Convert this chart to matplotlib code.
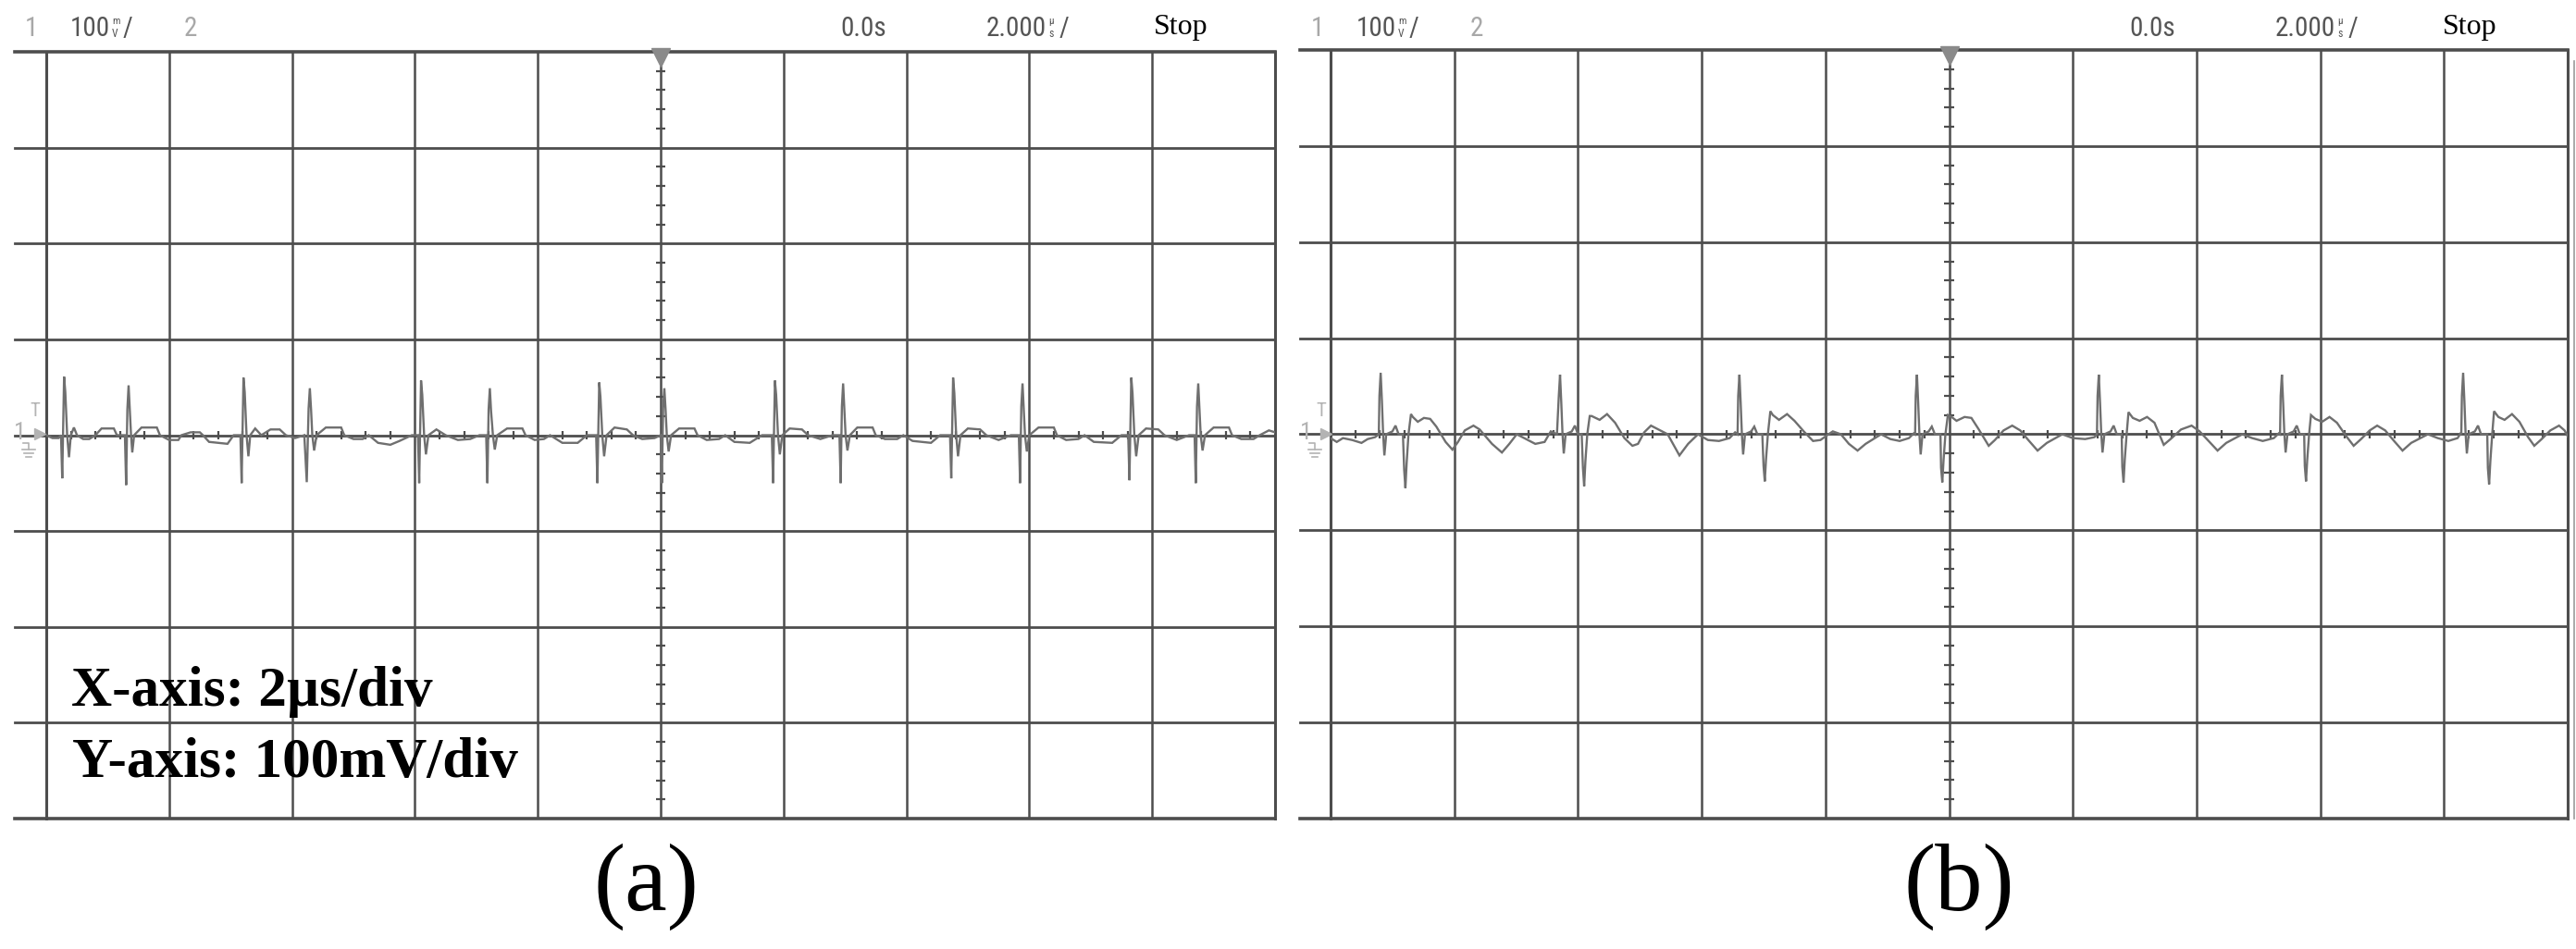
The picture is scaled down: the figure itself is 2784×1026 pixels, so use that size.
import numpy as np
import matplotlib
matplotlib.use('Agg')
import matplotlib.pyplot as plt
from matplotlib import font_manager

# ---- data (time in us, signal in mV) ----
trace_a_t = [
    -10.00, -9.90, -9.80, -9.76, -9.74, -9.71, -9.69, -9.66, -9.63, -9.60, -9.55, -9.50, -9.40, -9.30,
    -9.20, -9.10, -8.90, -8.85, -8.72, -8.70, -8.68, -8.66, -8.64, -8.62, -8.60, -8.57, -8.45, -8.20,
    -8.15, -8.00, -7.85, -7.80, -7.65, -7.50, -7.45, -7.35, -7.05, -6.95,
    -6.84, -6.82, -6.79, -6.77, -6.74, -6.71, -6.68, -6.60, -6.50, -6.35, -6.20, -6.10, -5.95, -5.80,
    -5.76, -5.73, -5.71, -5.69, -5.67, -5.64, -5.60, -5.45, -5.20, -5.15, -5.00, -4.85, -4.75, -4.60,
    -4.40, -4.25, -4.05,
    -3.95, -3.93, -3.90, -3.88, -3.85, -3.82, -3.78, -3.65, -3.50, -3.30, -3.10, -2.95, -2.84, -2.82,
    -2.80, -2.78, -2.76, -2.73, -2.70, -2.66, -2.50, -2.25, -2.20, -2.05, -1.90, -1.80, -1.60, -1.35,
    -1.20,
    -1.05, -1.03, -1.00, -0.98, -0.95, -0.92, -0.88, -0.75, -0.55, -0.45, -0.30, -0.10, 0.00, 0.02,
    0.04, 0.06, 0.08, 0.10, 0.13, 0.17, 0.30, 0.55, 0.60, 0.75, 0.95, 1.05, 1.20, 1.45, 1.65,
    1.81, 1.83, 1.86, 1.88, 1.91, 1.94, 1.98, 2.10, 2.30, 2.40, 2.60, 2.80, 2.91, 2.93, 2.95, 2.97,
    2.99, 3.01, 3.04, 3.08, 3.20, 3.45, 3.50, 3.65, 3.85, 3.95, 4.10, 4.40, 4.55,
    4.71, 4.73, 4.76, 4.78, 4.81, 4.84, 4.88, 5.00, 5.20, 5.30, 5.50, 5.70, 5.83, 5.85, 5.87, 5.89,
    5.91, 5.93, 5.96, 6.00, 6.15, 6.40, 6.45, 6.60, 6.80, 6.90, 7.05, 7.35, 7.50,
    7.61, 7.63, 7.66, 7.68, 7.71, 7.74, 7.78, 7.90, 8.10, 8.20, 8.40, 8.60, 8.69, 8.71, 8.73, 8.75,
    8.77, 8.79, 8.82, 8.86, 9.00, 9.25, 9.30, 9.45, 9.65, 9.75, 9.90, 10.00,
]
trace_a_mv = [
    0, -3, -3, 0, -45, 61, 45, 0, -23, 0, 8, 0, -4, -4,
    0, 7, 7, 0, 0, -52, 27, 52, 27, 0, -18, 0, 8, 8,
    0, -5, -5, 0, 3, 3, 0, -7, -9, 0,
    0, -50, 60, 45, 0, -22, 0, 7, 0, 6, 6, 0, -3, 0,
    -49, 28, 49, 27, 0, -16, 0, 8, 8, 0, -4, -4, 0, -8,
    -10, -6, 0,
    0, -50, 57, 42, 0, -20, 0, 6, 0, -5, -4, 0, 0, -50,
    27, 49, 25, 0, -15, 0, 7, 7, 0, -5, -4, 0, -8, -8,
    0,
    0, -50, 55, 40, 0, -22, 0, 8, 6, 0, -4, -3, 0, -50,
    28, 49, 27, 0, -17, 0, 7, 7, 0, -5, -4, 0, -7, -8, 0,
    0, -50, 57, 42, 0, -20, 0, 7, 6, 0, -4, 0, 0, -50, 30, 54,
    28, 0, -16, 0, 8, 8, 0, -4, -4, 0, -6, -8, 0,
    0, -45, 60, 44, 0, -22, 0, 7, 6, 0, -5, 0, 0, -50, 30, 54,
    28, 0, -17, 0, 8, 8, 0, -5, -4, 0, -7, -8, 0,
    0, -47, 60, 44, 0, -22, 0, 7, 6, 0, -5, 0, 0, -50, 30, 54,
    28, 0, -16, 0, 8, 8, 0, -4, -4, 0, 5, 3,
]

trace_b_t = [
    -10.00, -9.90, -9.80, -9.65, -9.50, -9.40, -9.28, -9.22,
    -9.21, -9.19, -9.17, -9.15, -9.13, -9.10, -9.00, -8.95, -8.90, -8.83,
    -8.81, -8.79, -8.77, -8.74, -8.70, -8.67, -8.59, -8.49, -8.39, -8.29, -8.14, -8.03, -7.94, -7.83,
    -7.69, -7.59, -7.39, -7.23, -7.11, -6.99, -6.84, -6.69, -6.54, -6.44, -6.34,
    -6.31, -6.29, -6.27, -6.25, -6.23, -6.20, -6.10, -6.05, -6.00, -5.94,
    -5.92, -5.90, -5.88, -5.85, -5.81, -5.78, -5.65, -5.53, -5.40, -5.25, -5.12, -5.03, -4.93, -4.82,
    -4.70, -4.55, -4.36, -4.22, -4.06, -3.90, -3.72, -3.55, -3.46, -3.42,
    -3.41, -3.39, -3.37, -3.35, -3.33, -3.30, -3.20, -3.15, -3.10, -3.02,
    -3.00, -2.98, -2.96, -2.93, -2.89, -2.85, -2.75, -2.62, -2.50, -2.35, -2.20, -2.08, -1.95, -1.88,
    -1.75, -1.62, -1.48, -1.35, -1.10, -0.95, -0.80, -0.65, -0.57, -0.55,
    -0.54, -0.52, -0.50, -0.48, -0.46, -0.43, -0.33, -0.28, -0.23, -0.14,
    -0.13, -0.11, -0.09, -0.06, -0.02, 0.04, 0.12, 0.25, 0.36, 0.48, 0.64, 0.74, 0.88, 1.02,
    1.15, 1.28, 1.43, 1.58, 1.83, 2.00, 2.20, 2.35, 2.39,
    2.40, 2.42, 2.44, 2.46, 2.48, 2.51, 2.61, 2.66, 2.71, 2.79,
    2.80, 2.82, 2.84, 2.87, 2.90, 2.97, 3.08, 3.20, 3.32, 3.47, 3.58, 3.75, 3.92, 4.05,
    4.18, 4.34, 4.48, 4.74, 4.90, 5.07, 5.25, 5.33, 5.35,
    5.36, 5.38, 5.40, 5.42, 5.44, 5.47, 5.57, 5.62, 5.67, 5.74,
    5.75, 5.77, 5.79, 5.82, 5.85, 5.92, 6.03, 6.15, 6.27, 6.42, 6.54, 6.66, 6.80, 6.92,
    7.05, 7.18, 7.33, 7.47, 7.74, 7.90, 8.07, 8.22, 8.27, 8.28,
    8.29, 8.31, 8.33, 8.35, 8.37, 8.40, 8.50, 8.55, 8.60, 8.70,
    8.71, 8.73, 8.75, 8.78, 8.81, 8.88, 8.98, 9.10, 9.22, 9.36, 9.46, 9.58, 9.72, 9.86,
    9.95, 10.00,
]
trace_b_mv = [
    -4, -8, -4, -6, -9, -5, -3, 0,
    40, 64, 35, 0, -22, 0, 3, 9, 0, 0,
    -37, -56, -30, 0, 21, 18, 13, 17, 16, 8, -8, -16, -8, 4,
    9, 5, -10, -19, -10, 0, -5, -10, -8, 3, 0,
    40, 62, 33, 0, -20, 0, 3, 9, 0, 0,
    -35, -54, -28, 0, 19, 19, 15, 21, 12, -4, -12, -10, 2, 9,
    5, 0, -22, -10, 0, -6, -7, -4, 2, 0,
    40, 62, 33, 0, -21, 0, 3, 8, 0, 0,
    -33, -49, -26, 0, 24, 20, 15, 21, 14, 3, -7, -6, 0, 3,
    0, -10, -17, -10, 0, -5, -7, -4, 1, 0,
    40, 62, 33, 0, -21, 0, 3, 8, 0, 0,
    -35, -50, -27, 0, 20, 18, 14, 18, 17, 5, -12, -6, 4, 9,
    4, -6, -17, -9, 0, -4, -5, -3, 0,
    40, 62, 33, 0, -19, 0, 3, 9, 0, 0,
    -34, -50, -26, 0, 23, 17, 14, 18, 12, -11, -5, 5, 9, 3,
    -6, -17, -9, 0, -4, -7, -4, 1, 0,
    40, 62, 33, 0, -19, 0, 3, 9, 0, 0,
    -33, -49, -26, 0, 20, 16, 13, 18, 12, -2, -12, -5, 4, 9,
    4, -6, -17, -9, 0, -4, -7, -4, 1, 0,
    40, 64, 35, 0, -20, 0, 3, 9, 0, 0,
    -35, -52, -28, 0, 24, 18, 15, 21, 13, -3, -12, -5, 4, 9,
    4, -2,
]

panel_labels = ['(a)', '(b)']
scale_lines = ['X-axis: 2\u00b5s/div', 'Y-axis: 100mV/div']

# ---- figure geometry (pixels of the 2784x1026 canvas) ----
W, H = 2784, 1026
fig = plt.figure(figsize=(W / 100, H / 100), dpi=100)
fig.patch.set_facecolor('white')

names = {f.name for f in font_manager.fontManager.ttflist}
narrow = 'DejaVu Sans'
for cand in ['Liberation Sans Narrow', 'DejaVu Sans Condensed', 'Roboto Condensed', 'Open Sans Condensed']:
    if cand in names:
        narrow = cand
        break
serif = ['Liberation Serif', 'DejaVu Serif']

grid_c = '#4d4d4d'
trace_c = '#6f6f6f'
hdr_c = '#555555'
dim_c = '#a8a8a8'

# panel boxes: left, top, right, bottom, start of the horizontal lines
boxes = [(50, 56, 1378, 885, 16), (1438, 54, 2775, 885, 1405)]
traces = [(trace_a_t, trace_a_mv), (trace_b_t, trace_b_mv)]

for (L, T, R, B, hs), (tt, vv) in zip(boxes, traces):
    ax = fig.add_axes([L / W, 1 - B / H, (R - L) / W, (B - T) / H])
    ax.set_xlim(-10, 10)
    ax.set_ylim(-400, 400)
    ax.axis('off')
    ext = (L - hs) / (R - L)
    for x in range(-8, 9, 2):
        ax.axvline(x, color=grid_c, lw=1.8, zorder=1)
    for y in range(-300, 301, 100):
        ax.axhline(y, xmin=-ext, xmax=1, color=grid_c, lw=2.0, zorder=1, clip_on=False)
    for y in (-400, 400):
        ax.axhline(y, xmin=-ext, xmax=1, color=grid_c, lw=2.6, zorder=1, clip_on=False)
    for x in (-10, 10):
        ax.axvline(x, color=grid_c, lw=2.2, zorder=1, clip_on=False)
    # minor ticks on the centre lines
    ty = [y for y in range(-380, 381, 20) if y % 100 != 0]
    ax.hlines(ty, -0.075, 0.075, color=grid_c, lw=1.6, zorder=1)
    tx = [x for x in np.arange(-9.6, 9.7, 0.4) if abs(x / 2 - round(x / 2)) > 1e-6]
    ax.vlines(tx, -4.8, 4.8, color=grid_c, lw=1.6, zorder=1)
    ax.plot(tt, vv, color=trace_c, lw=1.7, zorder=3, solid_joinstyle='miter')

# overlay for the scope annotations, in canvas pixels
ov = fig.add_axes([0, 0, 1, 1])
ov.set_xlim(0, W)
ov.set_ylim(H, 0)
ov.axis('off')
ov.patch.set_alpha(0)


def unit_stack(anchor, top, bottom, gap):
    # small stacked unit letters (oscilloscope style) right after a number, then a slash
    ov.annotate(top, xy=(1, 0.5), xycoords=anchor, xytext=(1.5, 5.5), textcoords='offset points',
                ha='left', va='center', family=narrow, fontsize=8, color=hdr_c)
    ov.annotate(bottom, xy=(1, 0.5), xycoords=anchor, xytext=(1.5, -4.0), textcoords='offset points',
                ha='left', va='center', family=narrow, fontsize=8.5, color=hdr_c)
    ov.annotate('/', xy=(1, 0.5), xycoords=anchor, xytext=(gap, 0), textcoords='offset points',
                ha='left', va='center', family=narrow, fontsize=21, color=hdr_c)


for dx, dxr, (L, T, R, B, hs) in zip([0, 1390], [0, 1393], boxes):
    hdr = dict(family=narrow, fontsize=21, va='center', ha='left')
    ov.text(27 + dx, 31, '1', color=dim_c, **hdr)
    t100 = ov.text(76 + dx, 31, '100', color=hdr_c, **hdr)
    unit_stack(t100, 'm', 'V', 10)
    ov.text(199 + dx, 31, '2', color=dim_c, **hdr)
    ov.text(908 + dxr, 31, '0.0s', color=hdr_c, **hdr)
    t2 = ov.text(1066 + dxr, 31, '2.000', color=hdr_c, **hdr)
    unit_stack(t2, '\u00b5', 's', 10)
    ov.text(1247 + dxr, 30, 'Stop', color='black', ha='left', family=serif, fontsize=23, va='center')

    # trigger marker on the centre line
    ov.plot([(L + R) / 2], [T + 6], marker='v', ms=14, color='#8a8a8a', mec='#8a8a8a', zorder=5)

    # channel 1 reference marker
    mc = '#b3b3b3'
    ov.text(21 + dx, 468, '1', color=mc, ha='center', va='center', family=narrow, fontsize=19)
    ov.text(38 + dx, 444, 'T', color=mc, ha='center', va='center', family=narrow, fontsize=15)
    ov.plot([43 + dx], [469], marker='>', ms=9, color=mc, mec=mc)
    ov.plot([25 + dx, 31 + dx, 31 + dx], [479, 479, 486], color=mc, lw=1.2)
    for yy, hw in ((486, 7), (490, 5), (494, 3)):
        ov.plot([31 + dx - hw, 31 + dx + hw], [yy, yy], color=mc, lw=1.2)

# faint edge of the neighbouring screen on the right
ov.plot([2782, 2782], [66, 885], color='#9a9a9a', lw=1.2)

# scale note inside panel (a)
ov.text(77, 763, scale_lines[0], family=serif, fontweight='bold', fontsize=44, ha='left', va='baseline')
ov.text(78, 840, scale_lines[1], family=serif, fontweight='bold', fontsize=44, ha='left', va='baseline')

# sub-figure labels
for xc, lab in zip([698, 2117], panel_labels):
    ov.text(xc, 984, lab, family=serif, fontsize=74, ha='center', va='baseline')

fig.savefig('out.png', dpi=100, facecolor='white')
